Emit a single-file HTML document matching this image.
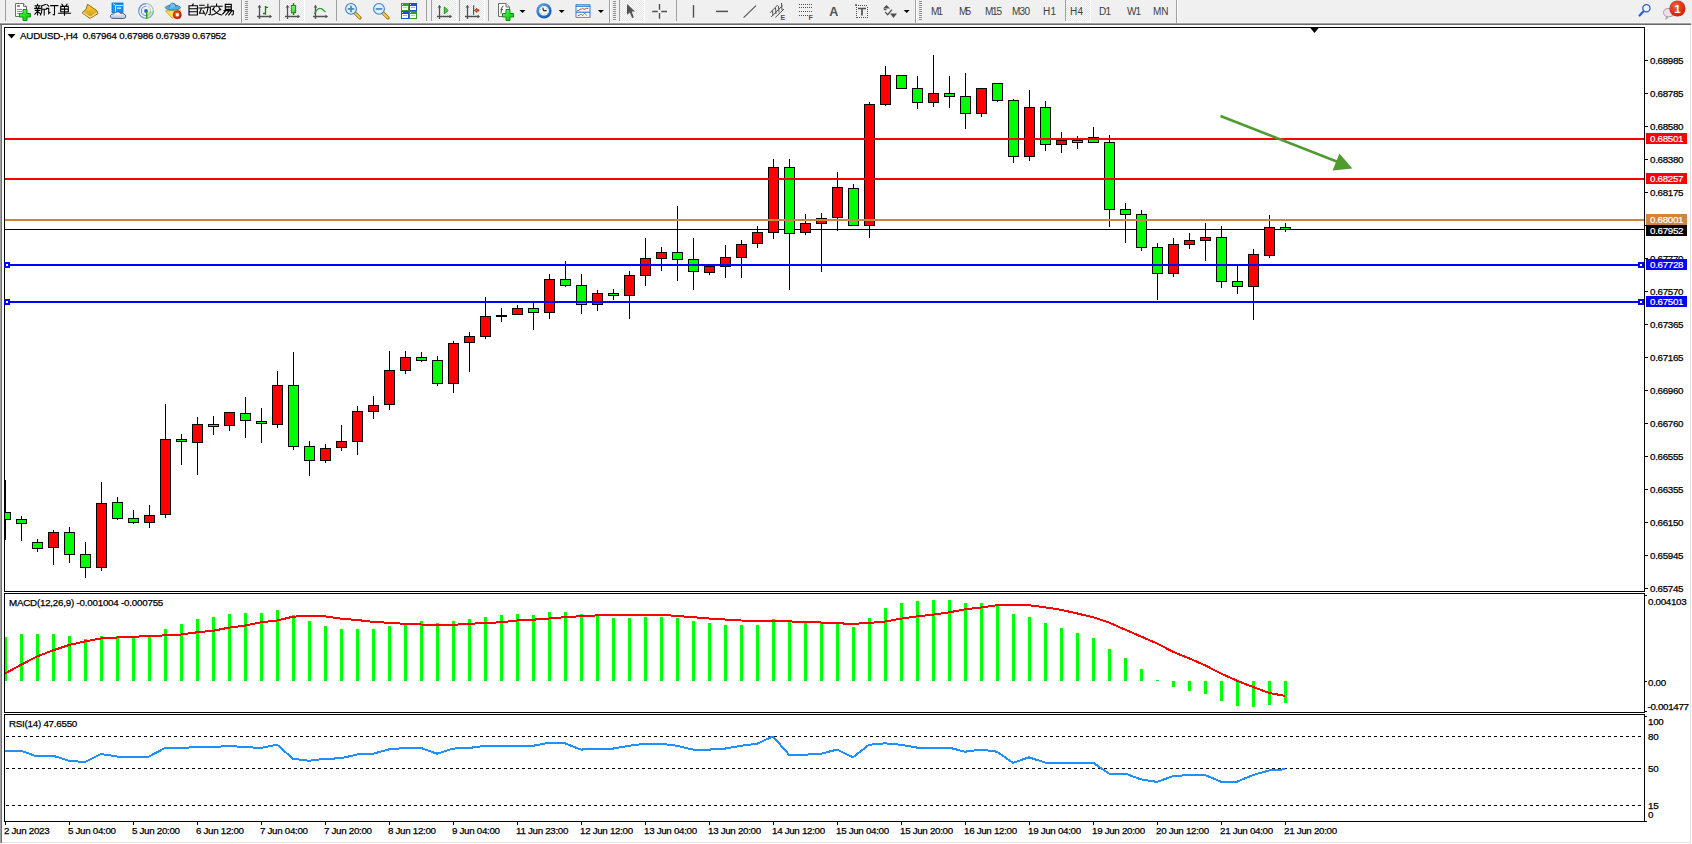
<!DOCTYPE html>
<html><head><meta charset="utf-8"><title>MT4 AUDUSD H4</title>
<style>
html,body{margin:0;padding:0;background:#fff;width:1692px;height:844px;overflow:hidden;}
svg{display:block;position:absolute;left:0;top:0;}
text{font-family:"Liberation Sans", sans-serif;}
</style></head><body>
<svg width="1692" height="844" viewBox="0 0 1692 844"><rect x="0" y="0" width="1692" height="23" fill="#f0f0f0"/>
<g shape-rendering="crispEdges">
<rect x="0" y="22" width="1691" height="1" fill="#f6f6f6"/>
<rect x="0" y="23" width="1691" height="1" fill="#a0a0a0"/>
<rect x="0" y="24" width="1691" height="1" fill="#6a6a6a"/>
<rect x="0" y="25" width="1" height="818" fill="#a0a0a0"/>
<rect x="1" y="25" width="1" height="818" fill="#707070"/>
<rect x="1690" y="25" width="1" height="818" fill="#e3e3e3"/>
<rect x="2" y="842" width="1689" height="1" fill="#e3e3e3"/>
</g><defs><pattern id="dither" width="2" height="2" patternUnits="userSpaceOnUse"><rect width="2" height="2" fill="#fcfcfc"/><rect width="1" height="1" fill="#e4e4e4"/><rect x="1" y="1" width="1" height="1" fill="#e4e4e4"/></pattern><linearGradient id="gplus" x1="0" y1="0" x2="1" y2="1"><stop offset="0" stop-color="#9cf59c"/><stop offset="0.5" stop-color="#22e022"/><stop offset="1" stop-color="#10c010"/></linearGradient><linearGradient id="ggold" x1="0" y1="0" x2="0" y2="1"><stop offset="0" stop-color="#f8d840"/><stop offset="1" stop-color="#d09010"/></linearGradient><linearGradient id="gcand" x1="0" y1="0" x2="1" y2="1"><stop offset="0" stop-color="#a8f8a8"/><stop offset="1" stop-color="#20c020"/></linearGradient><linearGradient id="gcloud" x1="0" y1="0" x2="0" y2="1"><stop offset="0" stop-color="#ffffff"/><stop offset="1" stop-color="#b8c4d8"/></linearGradient><radialGradient id="gclock" cx="0.4" cy="0.35" r="0.7"><stop offset="0" stop-color="#70c0ff"/><stop offset="1" stop-color="#0a50b0"/></radialGradient><radialGradient id="gred" cx="0.4" cy="0.35" r="0.7"><stop offset="0" stop-color="#f06040"/><stop offset="1" stop-color="#d01800"/></radialGradient></defs>
<g shape-rendering="crispEdges">
<rect x="5" y="0" width="1" height="21" fill="#a0a0a0"/>
<rect x="241" y="0" width="1" height="23" fill="#a0a0a0"/><rect x="242" y="0" width="1" height="23" fill="#ffffff"/>
<rect x="245" y="1" width="3" height="1" fill="#909090"/><rect x="245" y="3" width="3" height="1" fill="#909090"/><rect x="245" y="5" width="3" height="1" fill="#909090"/><rect x="245" y="7" width="3" height="1" fill="#909090"/><rect x="245" y="9" width="3" height="1" fill="#909090"/><rect x="245" y="11" width="3" height="1" fill="#909090"/><rect x="245" y="13" width="3" height="1" fill="#909090"/><rect x="245" y="15" width="3" height="1" fill="#909090"/><rect x="245" y="17" width="3" height="1" fill="#909090"/><rect x="245" y="19" width="3" height="1" fill="#909090"/>
<rect x="279" y="0" width="1" height="21" fill="#a0a0a0"/><rect x="280" y="0" width="24" height="21" fill="url(#dither)"/><rect x="304" y="0" width="1" height="22" fill="#ffffff"/><rect x="279" y="21" width="26" height="1" fill="#ffffff"/>
<rect x="336" y="0" width="1" height="21" fill="#a0a0a0"/>
<rect x="426" y="0" width="1" height="21" fill="#a0a0a0"/>
<rect x="431" y="0" width="1" height="21" fill="#a0a0a0"/><rect x="432" y="0" width="24" height="21" fill="url(#dither)"/><rect x="456" y="0" width="1" height="22" fill="#ffffff"/><rect x="431" y="21" width="26" height="1" fill="#ffffff"/>
<rect x="459" y="0" width="1" height="21" fill="#a0a0a0"/><rect x="460" y="0" width="24" height="21" fill="url(#dither)"/><rect x="484" y="0" width="1" height="22" fill="#ffffff"/><rect x="459" y="21" width="26" height="1" fill="#ffffff"/>
<rect x="488" y="0" width="1" height="21" fill="#a0a0a0"/>
<rect x="609" y="0" width="1" height="23" fill="#a0a0a0"/><rect x="610" y="0" width="1" height="23" fill="#ffffff"/>
<rect x="613" y="1" width="3" height="1" fill="#909090"/><rect x="613" y="3" width="3" height="1" fill="#909090"/><rect x="613" y="5" width="3" height="1" fill="#909090"/><rect x="613" y="7" width="3" height="1" fill="#909090"/><rect x="613" y="9" width="3" height="1" fill="#909090"/><rect x="613" y="11" width="3" height="1" fill="#909090"/><rect x="613" y="13" width="3" height="1" fill="#909090"/><rect x="613" y="15" width="3" height="1" fill="#909090"/><rect x="613" y="17" width="3" height="1" fill="#909090"/><rect x="613" y="19" width="3" height="1" fill="#909090"/>
<rect x="619" y="0" width="1" height="21" fill="#a0a0a0"/><rect x="620" y="0" width="24" height="21" fill="url(#dither)"/><rect x="644" y="0" width="1" height="22" fill="#ffffff"/><rect x="619" y="21" width="26" height="1" fill="#ffffff"/>
<rect x="676" y="0" width="1" height="21" fill="#a0a0a0"/>
<rect x="915" y="0" width="1" height="23" fill="#a0a0a0"/><rect x="916" y="0" width="1" height="23" fill="#ffffff"/>
<rect x="919" y="1" width="3" height="1" fill="#909090"/><rect x="919" y="3" width="3" height="1" fill="#909090"/><rect x="919" y="5" width="3" height="1" fill="#909090"/><rect x="919" y="7" width="3" height="1" fill="#909090"/><rect x="919" y="9" width="3" height="1" fill="#909090"/><rect x="919" y="11" width="3" height="1" fill="#909090"/><rect x="919" y="13" width="3" height="1" fill="#909090"/><rect x="919" y="15" width="3" height="1" fill="#909090"/><rect x="919" y="17" width="3" height="1" fill="#909090"/><rect x="919" y="19" width="3" height="1" fill="#909090"/>
<rect x="1065" y="0" width="1" height="21" fill="#a0a0a0"/><rect x="1066" y="0" width="24" height="21" fill="url(#dither)"/><rect x="1090" y="0" width="1" height="22" fill="#ffffff"/><rect x="1065" y="21" width="26" height="1" fill="#ffffff"/>
<rect x="1176" y="0" width="1" height="23" fill="#a0a0a0"/><rect x="1177" y="0" width="1" height="23" fill="#ffffff"/>
</g>
<path d="M15.5 3.5H23.5L26.5 6.5V16.5H15.5Z" fill="#fff" stroke="#707070" stroke-width="1"/>
<path d="M23.5 3.5V6.5H26.5" fill="#e8e8e8" stroke="#707070" stroke-width="1"/>
<g fill="#909090" shape-rendering="crispEdges"><rect x="17" y="5" width="3" height="2"/><rect x="17" y="9" width="5" height="1"/><rect x="17" y="11" width="5" height="1"/><rect x="17" y="13" width="3" height="1"/></g>
<path d="M23 9.5H27V13.5H30.5V17H27V20.5H23V17H19.5V13.5H23Z" fill="url(#gplus)" stroke="#109010" stroke-width="1"/>
<path transform="translate(34.5,4)" d="M3 0.3V1.6 M0.6 1.8H5.6 M1.6 2.6L2.2 3.8 M4.6 2.6L4 3.8 M0.2 4.4H6 M0.8 6.4H5.4 M3.1 4.4V11 M3 7.4L0.4 10.2 M3.4 7.6L5.6 9.4 M11.4 0.4L7.2 1.8 M7.2 1.8V7 Q7 9.5 6 11 M7.2 5.2H12 M9.7 5.2V11" stroke="#000" stroke-width="1.1" fill="none" stroke-linecap="square"/>
<path transform="translate(46.5,4)" d="M0.8 0.8L2.2 2.2 M0.2 4.4H2.2V9.6L3.6 8.4 M4.2 1.6H11.4 M8 1.6V10.6Q8 11.2 6.6 10.6" stroke="#000" stroke-width="1.1" fill="none" stroke-linecap="square"/>
<path transform="translate(58.5,4)" d="M3.4 0.2L4.4 1.6 M8.6 0.2L7.6 1.6 M2.2 2.4H9.8V7.8H2.2Z M2.2 5.1H9.8 M6 2.4V11.2 M0 9.2H12" stroke="#000" stroke-width="1.1" fill="none" stroke-linecap="square"/>
<path d="M87.5 4.3L96.8 10.6L98 13.6L90 18.4L82.2 12.9L86.2 9Z" fill="url(#ggold)" stroke="#a06410" stroke-width="1"/>
<path d="M83.2 12.6L90.2 17.2L97.2 12.8" fill="none" stroke="#fff0b0" stroke-width="1.2" opacity="0.8"/>
<rect x="112" y="3" width="11" height="9.5" fill="#1890f0" stroke="#0a70d0" stroke-width="0.8"/>
<path d="M113 3.5L115.5 5.5V12 M115.5 5.5H123" stroke="#d8f0ff" stroke-width="0.9" fill="none"/>
<rect x="117" y="7.5" width="4" height="1.3" fill="#e8f6ff"/>
<path d="M111.5 18.3Q109.8 17.6 110.6 15.4Q111.3 13.6 113.6 14Q114.5 11.6 117.2 12Q119.3 11 120.4 13.4Q122.3 12.6 124 14Q126.4 14.6 125.7 17.1Q125.2 18.5 123.6 18.5Z" fill="url(#gcloud)" stroke="#4a5a8a" stroke-width="1"/>
<g fill="none" stroke-width="1.1">
<path d="M146 3.6A7.3 7.3 0 0 0 146 18.2" stroke="#4a78d8" opacity="0.85"/>
<path d="M146 3.6A7.3 7.3 0 0 1 153.3 10.9" stroke="#88b0c0" opacity="0.7"/>
<path d="M153.3 10.9A7.3 7.3 0 0 1 146 18.2" stroke="#40a040" opacity="0.9"/>
<path d="M146 6.3A4.6 4.6 0 0 0 146 15.5" stroke="#4a78d8" opacity="0.8"/>
<path d="M146 6.3A4.6 4.6 0 0 1 150.6 10.9" stroke="#a0c0b0" opacity="0.6"/>
<path d="M150.6 10.9A4.6 4.6 0 0 1 146 15.5" stroke="#50a850" opacity="0.8"/>
</g>
<path d="M146.5 11V18.4L150 17.4A7 7 0 0 0 153 12Z" fill="#a8d8a0" opacity="0.55"/>
<circle cx="146" cy="10.9" r="1.9" fill="#2a5ad0"/>
<rect x="146" y="11" width="1.4" height="7.6" fill="#1aa01a"/>
<path d="M165.5 10.8L180.6 10.2L172.4 18.4Z" fill="#f8e050" stroke="#d0a020" stroke-width="0.9"/>
<ellipse cx="172.9" cy="7.6" rx="7.6" ry="2.4" fill="#58b0e8" stroke="#2a78a8" stroke-width="0.9"/>
<path d="M169.4 7.4Q169.6 3.2 172.8 3.2Q176 3.2 176 7.2" fill="#70c0f0" stroke="#2a78a8" stroke-width="0.9"/>
<circle cx="177.3" cy="14.8" r="4" fill="url(#gred)" stroke="#b01000" stroke-width="0.7"/>
<rect x="175.8" y="13.3" width="3" height="3" fill="#fff"/>
<path transform="translate(187.2,4)" d="M6 0L5 1.6 M1.8 1.8H10.2V11H1.8Z M1.8 4.7H10.2 M1.8 7.8H10.2" stroke="#000" stroke-width="1.1" fill="none" stroke-linecap="square"/>
<path transform="translate(198.89999999999998,4)" d="M0.8 1.2H5.2 M0 4H6 M2.6 4L0.6 9.2H5.4 M4.2 6.8L5.6 9.6 M6.4 3.2H11.4V10.2Q11.2 11 10 10.6 M9 0.2V4Q8.8 8.4 6.4 11" stroke="#000" stroke-width="1.1" fill="none" stroke-linecap="square"/>
<path transform="translate(210.6,4)" d="M6 0V1.6 M0.4 2.2H11.6 M3.6 3.6L1.8 5.8 M8.4 3.6L10.2 5.8 M3 5.8Q6 10 10.8 11 M9 5.8Q6 10 1 11" stroke="#000" stroke-width="1.1" fill="none" stroke-linecap="square"/>
<path transform="translate(222.29999999999998,4)" d="M3 0.4H9V5.4H3Z M3 2.9H9 M1.8 6.6H11V10.2Q10.8 11 9.6 10.8 M3.6 6.6L0.4 10 M6.4 7.6L3.4 11 M9 7.6L6.4 11" stroke="#000" stroke-width="1.1" fill="none" stroke-linecap="square"/>
<path d="M259.5 5.5V19 M257.0 16.5H271.0" stroke="#505050" stroke-width="1.3" fill="none"/><polygon points="257.7,7.6 259.5,5 261.3,7.6" fill="#505050"/><polygon points="269.5,14.7 272.1,16.5 269.5,18.3" fill="#505050"/>
<path d="M265.5 6V14.8 M265.5 7.3H268 M263 13.5H265.5" stroke="#108010" stroke-width="1.3" fill="none"/>
<path d="M287.5 5.5V19 M285.0 16.5H299.0" stroke="#505050" stroke-width="1.3" fill="none"/><polygon points="285.7,7.6 287.5,5 289.3,7.6" fill="#505050"/><polygon points="297.5,14.7 300.1,16.5 297.5,18.3" fill="#505050"/>
<path d="M293.5 3V15" stroke="#108010" stroke-width="1.3"/>
<rect x="291.3" y="5.4" width="4.4" height="7.4" fill="url(#gcand)" stroke="#108010" stroke-width="0.9"/>
<path d="M315.5 5.5V19 M313.0 16.5H327.0" stroke="#505050" stroke-width="1.3" fill="none"/><polygon points="313.7,7.6 315.5,5 317.3,7.6" fill="#505050"/><polygon points="325.5,14.7 328.1,16.5 325.5,18.3" fill="#505050"/>
<path d="M314.2 13.7Q317.5 8.2 320.2 8.3Q322 8.3 325.5 12.2" stroke="#2a9a2a" stroke-width="1.2" fill="none"/>
<path d="M354.5 12.5L360 17.9" stroke="#a07010" stroke-width="3.4" stroke-linecap="round"/>
<path d="M354.8 12.8L359.7 17.6" stroke="#f0d050" stroke-width="1.8" stroke-linecap="round"/>
<circle cx="351" cy="8.9" r="5.4" fill="#dcf0fb" stroke="#3a80c8" stroke-width="1.1"/>
<rect x="347.7" y="8.1" width="6.6" height="1.7" fill="#4a8ab8"/>
<rect x="350.15" y="5.6" width="1.7" height="6.6" fill="#4a8ab8"/>
<path d="M382.5 12.5L388 17.9" stroke="#a07010" stroke-width="3.4" stroke-linecap="round"/>
<path d="M382.8 12.8L387.7 17.6" stroke="#f0d050" stroke-width="1.8" stroke-linecap="round"/>
<circle cx="379" cy="8.9" r="5.4" fill="#dcf0fb" stroke="#3a80c8" stroke-width="1.1"/>
<rect x="375.7" y="8.1" width="6.6" height="1.7" fill="#4a8ab8"/>
<g shape-rendering="crispEdges">
<rect x="401" y="3" width="8" height="8" fill="#30a020"/>
<rect x="402" y="6" width="6" height="4" fill="#fff"/>
<rect x="403" y="7" width="4" height="1" fill="#a0e090"/>
<rect x="402" y="4" width="1" height="1" fill="#e0f0e0"/>
<rect x="409" y="3" width="8" height="8" fill="#2050d0"/>
<rect x="410" y="6" width="6" height="4" fill="#fff"/>
<rect x="411" y="7" width="4" height="1" fill="#90b0f0"/>
<rect x="410" y="4" width="1" height="1" fill="#e0f0e0"/>
<rect x="401" y="11" width="8" height="8" fill="#2050d0"/>
<rect x="402" y="14" width="6" height="4" fill="#fff"/>
<rect x="403" y="15" width="4" height="1" fill="#90b0f0"/>
<rect x="402" y="12" width="1" height="1" fill="#e0f0e0"/>
<rect x="409" y="11" width="8" height="8" fill="#30a020"/>
<rect x="410" y="14" width="6" height="4" fill="#fff"/>
<rect x="411" y="15" width="4" height="1" fill="#a0e090"/>
<rect x="410" y="12" width="1" height="1" fill="#e0f0e0"/>
</g>
<path d="M439.5 5.5V19 M437.0 16.5H451.0" stroke="#505050" stroke-width="1.3" fill="none"/><polygon points="437.7,7.6 439.5,5 441.3,7.6" fill="#505050"/><polygon points="449.5,14.7 452.1,16.5 449.5,18.3" fill="#505050"/>
<polygon points="444.3,7 448.2,10.4 444.3,13.8" fill="#40d040" stroke="#109010" stroke-width="0.9"/>
<path d="M467.5 5.5V19 M465.0 16.5H479.0" stroke="#505050" stroke-width="1.3" fill="none"/><polygon points="465.7,7.6 467.5,5 469.3,7.6" fill="#505050"/><polygon points="477.5,14.7 480.1,16.5 477.5,18.3" fill="#505050"/>
<rect x="473" y="5.3" width="1.2" height="9.4" fill="#1a6a9a"/>
<path d="M474.4 10.4L477 8.3V9.7H479V11.1H477V12.6Z" fill="#f06010" stroke="#902000" stroke-width="0.6"/>
<path d="M498.5 3.5H506L509.5 7V16.5H498.5Z" fill="#fff" stroke="#707070" stroke-width="1"/>
<path d="M506 3.5V7H509.5" fill="#e8e8e8" stroke="#707070" stroke-width="1"/>
<path d="M503.5 6.3Q502 6 501.6 8.5L501 13.5 M500.4 9.3H503" stroke="#404030" stroke-width="0.9" fill="none"/>
<path d="M506 9.5H510V13.5H513.5V17H510V20.5H506V17H502.5V13.5H506Z" fill="url(#gplus)" stroke="#109010" stroke-width="1"/>
<polygon points="519.5,10 525.5,10 522.5,13" fill="#000"/>
<circle cx="544" cy="10.9" r="7.6" fill="url(#gclock)"/>
<circle cx="544" cy="10.9" r="4.9" fill="#f4f4f4"/>
<path d="M543.5 10.6L542.8 7.6 M543.5 10.6H546.6" stroke="#202020" stroke-width="1.1" fill="none"/>
<g fill="#909090"><rect x="546.5" y="8" width="0.8" height="0.8"/><rect x="540" y="9" width="0.8" height="0.8"/><rect x="540.6" y="13" width="0.8" height="0.8"/><rect x="546.8" y="13.3" width="0.8" height="0.8"/><rect x="543.6" y="14.6" width="1.2" height="0.7" fill="#6aa8e8"/></g>
<polygon points="558.7,10 564.7,10 561.7,13" fill="#000"/>
<rect x="575.5" y="4.3" width="15" height="13.4" rx="0.8" fill="#2a78c8"/>
<rect x="576.5" y="4.8" width="13" height="1.6" fill="#80b8f0"/>
<rect x="576.5" y="7" width="13" height="4.6" fill="#fff"/>
<rect x="576.5" y="12.8" width="13" height="4.1" fill="#fff"/>
<path d="M577.2 10.4H578.8L580.2 9.2H581.5L582.5 8.3L583.8 9.2H585L586.4 8.3H588.3" stroke="#a02010" stroke-width="0.9" fill="none"/>
<path d="M578 15.5H579L580.3 14.4H581.3L582.3 15.5L583.3 14.6L584.7 13.2L585.9 14.6L586.8 15.6" stroke="#109010" stroke-width="0.9" fill="none"/>
<polygon points="597.9,10 603.9,10 600.9,13" fill="#000"/>
<polygon points="627,3.9 627,14.8 629.9,12.4 632.1,17.9 633.8,17.2 631.6,11.6 635,11.4" fill="#505050"/>
<path d="M659.5 4.1V9.7 M659.5 13.1V18.7 M652.2 11.5H657.8 M661.2 11.5H667" stroke="#505050" stroke-width="1.4"/>
<path d="M693.5 5.1V17.7" stroke="#505050" stroke-width="1.4"/>
<path d="M716 11.4H728" stroke="#505050" stroke-width="1.5"/>
<path d="M743.6 17.7L756 5.7" stroke="#505050" stroke-width="1.1"/>
<g stroke="#505050" stroke-width="1" fill="none">
<path d="M770 12.8L777.7 5 M771.2 17L782.5 5.5 M775.3 17.5L784 9"/>
<path d="M772.5 10.5L773 15.5 M775.5 8L776 14 M778.5 6L779 12.5 M781.5 3L782 10"/>
</g>
<text x="780.6" y="19.8" font-family='"Liberation Sans", sans-serif' font-size="7" font-weight="bold" fill="#505050">E</text>
<g fill="#505050" shape-rendering="crispEdges">
<rect x="799" y="4" width="1" height="1"/>
<rect x="801" y="4" width="1" height="1"/>
<rect x="803" y="4" width="1" height="1"/>
<rect x="805" y="4" width="1" height="1"/>
<rect x="807" y="4" width="1" height="1"/>
<rect x="809" y="4" width="1" height="1"/>
<rect x="811" y="4" width="1" height="1"/>
<rect x="799" y="7" width="1" height="1"/>
<rect x="801" y="7" width="1" height="1"/>
<rect x="803" y="7" width="1" height="1"/>
<rect x="805" y="7" width="1" height="1"/>
<rect x="807" y="7" width="1" height="1"/>
<rect x="809" y="7" width="1" height="1"/>
<rect x="811" y="7" width="1" height="1"/>
<rect x="799" y="11" width="1" height="1"/>
<rect x="801" y="11" width="1" height="1"/>
<rect x="803" y="11" width="1" height="1"/>
<rect x="805" y="11" width="1" height="1"/>
<rect x="807" y="11" width="1" height="1"/>
<rect x="809" y="11" width="1" height="1"/>
<rect x="811" y="11" width="1" height="1"/>
<rect x="799" y="15" width="1" height="1"/>
<rect x="801" y="15" width="1" height="1"/>
<rect x="803" y="15" width="1" height="1"/>
<rect x="805" y="15" width="1" height="1"/>
<rect x="807" y="15" width="1" height="1"/>
</g>
<text x="808.6" y="19.8" font-family='"Liberation Sans", sans-serif' font-size="7" font-weight="bold" fill="#505050">F</text>
<text x="829.3" y="16" font-family='"Liberation Sans", sans-serif' font-size="12.5" font-weight="bold" fill="#505050">A</text>
<rect x="856" y="5.5" width="11" height="12" fill="none" stroke="#505050" stroke-width="1" stroke-dasharray="1,1" shape-rendering="crispEdges"/>
<rect x="855" y="4.3" width="2" height="1.4" fill="#505050"/>
<path d="M858 8.5H866 M862 8.5V15.6" stroke="#505050" stroke-width="1.7" fill="none"/>
<polygon points="886.5,5 883,8.6 890,8.6" fill="#505050"/>
<path d="M883.8 9.6L886.5 9.6 M885.2 12.1L887.7 14.7L891.9 9.6" stroke="#505050" stroke-width="1.3" fill="none"/>
<polygon points="890,13.4 897,13.4 893.5,17.9" fill="#505050"/>
<polygon points="903.7,10 909.7,10 906.7,13" fill="#000"/>
<g font-family='"Liberation Sans", sans-serif' font-size="10" fill="#404040">
<text x="931" y="15.2" textLength="12" lengthAdjust="spacing">M1</text>
<text x="959" y="15.2" textLength="12" lengthAdjust="spacing">M5</text>
<text x="985" y="15.2" textLength="17" lengthAdjust="spacing">M15</text>
<text x="1012" y="15.2" textLength="18" lengthAdjust="spacing">M30</text>
<text x="1043" y="15.2" textLength="13" lengthAdjust="spacing">H1</text>
<text x="1070" y="15.2" textLength="13" lengthAdjust="spacing">H4</text>
<text x="1099" y="15.2" textLength="12" lengthAdjust="spacing">D1</text>
<text x="1127" y="15.2" textLength="14" lengthAdjust="spacing">W1</text>
<text x="1153" y="15.2" textLength="15.5" lengthAdjust="spacing">MN</text>
</g>
<circle cx="1646.4" cy="8.3" r="3.6" fill="#f4f4ff" stroke="#2a5fd0" stroke-width="1.3"/>
<path d="M1643.5 11.3L1639.6 15.5" stroke="#2a5fd0" stroke-width="2.2" stroke-linecap="round"/>
<path d="M1668 8.5Q1663.6 8.5 1663.6 12.6Q1663.6 16.6 1668 16.6H1666.5L1665.8 19.4L1669 16.6H1670Q1674 16.6 1674 12.6Q1674 8.5 1670 8.5Z" fill="#e4e4ec" stroke="#9a9a9a" stroke-width="0.9"/>
<circle cx="1677.4" cy="8.5" r="8.1" fill="url(#gred)"/>
<text x="1677.4" y="12.8" text-anchor="middle" font-family="'Liberation Serif', serif" font-size="11.5" font-weight="bold" fill="#fff">1</text><defs><clipPath id="cm"><rect x="5" y="28" width="1639" height="563"/></clipPath><clipPath id="cmacd"><rect x="5" y="594" width="1639" height="118"/></clipPath><clipPath id="crsi"><rect x="5" y="715" width="1639" height="106"/></clipPath></defs>
<g fill="none" stroke="#000" stroke-width="1" shape-rendering="crispEdges">
<rect x="4.5" y="27.5" width="1640" height="564"/>
<rect x="4.5" y="593.5" width="1640" height="119"/>
<rect x="4.5" y="714.5" width="1640" height="107"/>
</g>
<g clip-path="url(#cm)">
<rect x="5" y="229" width="1639" height="1" fill="#000000" shape-rendering="crispEdges"/>
<g shape-rendering="crispEdges">
<rect x="5" y="480" width="1" height="60" fill="#000"/>
<rect x="0" y="512" width="11" height="8" fill="#000"/>
<rect x="1" y="513" width="9" height="6" fill="#00ff00"/>
<rect x="21" y="516" width="1" height="25" fill="#000"/>
<rect x="16" y="519" width="11" height="5" fill="#000"/>
<rect x="17" y="520" width="9" height="3" fill="#00ff00"/>
<rect x="37" y="539" width="1" height="13" fill="#000"/>
<rect x="32" y="542" width="11" height="7" fill="#000"/>
<rect x="33" y="543" width="9" height="5" fill="#00ff00"/>
<rect x="53" y="530" width="1" height="35" fill="#000"/>
<rect x="48" y="532" width="11" height="16" fill="#000"/>
<rect x="49" y="533" width="9" height="14" fill="#ff0000"/>
<rect x="69" y="527" width="1" height="36" fill="#000"/>
<rect x="64" y="532" width="11" height="23" fill="#000"/>
<rect x="65" y="533" width="9" height="21" fill="#00ff00"/>
<rect x="85" y="542" width="1" height="36" fill="#000"/>
<rect x="80" y="554" width="11" height="14" fill="#000"/>
<rect x="81" y="555" width="9" height="12" fill="#00ff00"/>
<rect x="101" y="482" width="1" height="89" fill="#000"/>
<rect x="96" y="503" width="11" height="65" fill="#000"/>
<rect x="97" y="504" width="9" height="63" fill="#ff0000"/>
<rect x="117" y="497" width="1" height="23" fill="#000"/>
<rect x="112" y="502" width="11" height="17" fill="#000"/>
<rect x="113" y="503" width="9" height="15" fill="#00ff00"/>
<rect x="133" y="510" width="1" height="14" fill="#000"/>
<rect x="128" y="518" width="11" height="5" fill="#000"/>
<rect x="129" y="519" width="9" height="3" fill="#00ff00"/>
<rect x="149" y="505" width="1" height="23" fill="#000"/>
<rect x="144" y="515" width="11" height="8" fill="#000"/>
<rect x="145" y="516" width="9" height="6" fill="#ff0000"/>
<rect x="165" y="404" width="1" height="114" fill="#000"/>
<rect x="160" y="439" width="11" height="76" fill="#000"/>
<rect x="161" y="440" width="9" height="74" fill="#ff0000"/>
<rect x="181" y="434" width="1" height="31" fill="#000"/>
<rect x="176" y="439" width="11" height="3" fill="#000"/>
<rect x="177" y="440" width="9" height="1" fill="#00ff00"/>
<rect x="197" y="417" width="1" height="58" fill="#000"/>
<rect x="192" y="424" width="11" height="19" fill="#000"/>
<rect x="193" y="425" width="9" height="17" fill="#ff0000"/>
<rect x="213" y="416" width="1" height="19" fill="#000"/>
<rect x="208" y="424" width="11" height="3" fill="#000"/>
<rect x="209" y="425" width="9" height="1" fill="#00ff00"/>
<rect x="229" y="412" width="1" height="19" fill="#000"/>
<rect x="224" y="412" width="11" height="14" fill="#000"/>
<rect x="225" y="413" width="9" height="12" fill="#ff0000"/>
<rect x="245" y="397" width="1" height="41" fill="#000"/>
<rect x="240" y="413" width="11" height="8" fill="#000"/>
<rect x="241" y="414" width="9" height="6" fill="#00ff00"/>
<rect x="261" y="408" width="1" height="35" fill="#000"/>
<rect x="256" y="421" width="11" height="3" fill="#000"/>
<rect x="257" y="422" width="9" height="1" fill="#00ff00"/>
<rect x="277" y="371" width="1" height="57" fill="#000"/>
<rect x="272" y="385" width="11" height="40" fill="#000"/>
<rect x="273" y="386" width="9" height="38" fill="#ff0000"/>
<rect x="293" y="352" width="1" height="98" fill="#000"/>
<rect x="288" y="385" width="11" height="62" fill="#000"/>
<rect x="289" y="386" width="9" height="60" fill="#00ff00"/>
<rect x="309" y="441" width="1" height="35" fill="#000"/>
<rect x="304" y="446" width="11" height="15" fill="#000"/>
<rect x="305" y="447" width="9" height="13" fill="#00ff00"/>
<rect x="325" y="444" width="1" height="19" fill="#000"/>
<rect x="320" y="448" width="11" height="13" fill="#000"/>
<rect x="321" y="449" width="9" height="11" fill="#ff0000"/>
<rect x="341" y="425" width="1" height="26" fill="#000"/>
<rect x="336" y="441" width="11" height="7" fill="#000"/>
<rect x="337" y="442" width="9" height="5" fill="#ff0000"/>
<rect x="357" y="406" width="1" height="49" fill="#000"/>
<rect x="352" y="411" width="11" height="31" fill="#000"/>
<rect x="353" y="412" width="9" height="29" fill="#ff0000"/>
<rect x="373" y="396" width="1" height="23" fill="#000"/>
<rect x="368" y="405" width="11" height="7" fill="#000"/>
<rect x="369" y="406" width="9" height="5" fill="#ff0000"/>
<rect x="389" y="351" width="1" height="59" fill="#000"/>
<rect x="384" y="370" width="11" height="35" fill="#000"/>
<rect x="385" y="371" width="9" height="33" fill="#ff0000"/>
<rect x="405" y="351" width="1" height="23" fill="#000"/>
<rect x="400" y="357" width="11" height="14" fill="#000"/>
<rect x="401" y="358" width="9" height="12" fill="#ff0000"/>
<rect x="421" y="352" width="1" height="10" fill="#000"/>
<rect x="416" y="357" width="11" height="4" fill="#000"/>
<rect x="417" y="358" width="9" height="2" fill="#00ff00"/>
<rect x="437" y="356" width="1" height="30" fill="#000"/>
<rect x="432" y="360" width="11" height="24" fill="#000"/>
<rect x="433" y="361" width="9" height="22" fill="#00ff00"/>
<rect x="453" y="341" width="1" height="52" fill="#000"/>
<rect x="448" y="343" width="11" height="41" fill="#000"/>
<rect x="449" y="344" width="9" height="39" fill="#ff0000"/>
<rect x="469" y="332" width="1" height="40" fill="#000"/>
<rect x="464" y="336" width="11" height="7" fill="#000"/>
<rect x="465" y="337" width="9" height="5" fill="#ff0000"/>
<rect x="485" y="297" width="1" height="42" fill="#000"/>
<rect x="480" y="316" width="11" height="21" fill="#000"/>
<rect x="481" y="317" width="9" height="19" fill="#ff0000"/>
<rect x="501" y="308" width="1" height="14" fill="#000"/>
<rect x="496" y="315" width="11" height="2" fill="#000"/>
<rect x="517" y="305" width="1" height="10" fill="#000"/>
<rect x="512" y="308" width="11" height="7" fill="#000"/>
<rect x="513" y="309" width="9" height="5" fill="#ff0000"/>
<rect x="533" y="303" width="1" height="27" fill="#000"/>
<rect x="528" y="308" width="11" height="5" fill="#000"/>
<rect x="529" y="309" width="9" height="3" fill="#00ff00"/>
<rect x="549" y="274" width="1" height="45" fill="#000"/>
<rect x="544" y="279" width="11" height="34" fill="#000"/>
<rect x="545" y="280" width="9" height="32" fill="#ff0000"/>
<rect x="565" y="261" width="1" height="26" fill="#000"/>
<rect x="560" y="279" width="11" height="7" fill="#000"/>
<rect x="561" y="280" width="9" height="5" fill="#00ff00"/>
<rect x="581" y="274" width="1" height="40" fill="#000"/>
<rect x="576" y="285" width="11" height="20" fill="#000"/>
<rect x="577" y="286" width="9" height="18" fill="#00ff00"/>
<rect x="597" y="290" width="1" height="21" fill="#000"/>
<rect x="592" y="293" width="11" height="12" fill="#000"/>
<rect x="593" y="294" width="9" height="10" fill="#ff0000"/>
<rect x="613" y="289" width="1" height="11" fill="#000"/>
<rect x="608" y="293" width="11" height="3" fill="#000"/>
<rect x="609" y="294" width="9" height="1" fill="#00ff00"/>
<rect x="629" y="271" width="1" height="48" fill="#000"/>
<rect x="624" y="275" width="11" height="21" fill="#000"/>
<rect x="625" y="276" width="9" height="19" fill="#ff0000"/>
<rect x="645" y="238" width="1" height="48" fill="#000"/>
<rect x="640" y="258" width="11" height="18" fill="#000"/>
<rect x="641" y="259" width="9" height="16" fill="#ff0000"/>
<rect x="661" y="247" width="1" height="24" fill="#000"/>
<rect x="656" y="252" width="11" height="7" fill="#000"/>
<rect x="657" y="253" width="9" height="5" fill="#ff0000"/>
<rect x="677" y="206" width="1" height="75" fill="#000"/>
<rect x="672" y="252" width="11" height="8" fill="#000"/>
<rect x="673" y="253" width="9" height="6" fill="#00ff00"/>
<rect x="693" y="238" width="1" height="52" fill="#000"/>
<rect x="688" y="259" width="11" height="13" fill="#000"/>
<rect x="689" y="260" width="9" height="11" fill="#00ff00"/>
<rect x="709" y="266" width="1" height="9" fill="#000"/>
<rect x="704" y="266" width="11" height="7" fill="#000"/>
<rect x="705" y="267" width="9" height="5" fill="#ff0000"/>
<rect x="725" y="245" width="1" height="33" fill="#000"/>
<rect x="720" y="257" width="11" height="10" fill="#000"/>
<rect x="721" y="258" width="9" height="8" fill="#ff0000"/>
<rect x="741" y="240" width="1" height="38" fill="#000"/>
<rect x="736" y="244" width="11" height="14" fill="#000"/>
<rect x="737" y="245" width="9" height="12" fill="#ff0000"/>
<rect x="757" y="226" width="1" height="22" fill="#000"/>
<rect x="752" y="232" width="11" height="12" fill="#000"/>
<rect x="753" y="233" width="9" height="10" fill="#ff0000"/>
<rect x="773" y="159" width="1" height="80" fill="#000"/>
<rect x="768" y="167" width="11" height="66" fill="#000"/>
<rect x="769" y="168" width="9" height="64" fill="#ff0000"/>
<rect x="789" y="159" width="1" height="131" fill="#000"/>
<rect x="784" y="167" width="11" height="67" fill="#000"/>
<rect x="785" y="168" width="9" height="65" fill="#00ff00"/>
<rect x="805" y="214" width="1" height="21" fill="#000"/>
<rect x="800" y="223" width="11" height="10" fill="#000"/>
<rect x="801" y="224" width="9" height="8" fill="#ff0000"/>
<rect x="821" y="213" width="1" height="59" fill="#000"/>
<rect x="816" y="218" width="11" height="6" fill="#000"/>
<rect x="817" y="219" width="9" height="4" fill="#ff0000"/>
<rect x="837" y="172" width="1" height="59" fill="#000"/>
<rect x="832" y="187" width="11" height="31" fill="#000"/>
<rect x="833" y="188" width="9" height="29" fill="#ff0000"/>
<rect x="853" y="184" width="1" height="42" fill="#000"/>
<rect x="848" y="188" width="11" height="38" fill="#000"/>
<rect x="849" y="189" width="9" height="36" fill="#00ff00"/>
<rect x="869" y="102" width="1" height="136" fill="#000"/>
<rect x="864" y="104" width="11" height="122" fill="#000"/>
<rect x="865" y="105" width="9" height="120" fill="#ff0000"/>
<rect x="885" y="66" width="1" height="40" fill="#000"/>
<rect x="880" y="75" width="11" height="30" fill="#000"/>
<rect x="881" y="76" width="9" height="28" fill="#ff0000"/>
<rect x="901" y="75" width="1" height="14" fill="#000"/>
<rect x="896" y="75" width="11" height="14" fill="#000"/>
<rect x="897" y="76" width="9" height="12" fill="#00ff00"/>
<rect x="917" y="76" width="1" height="33" fill="#000"/>
<rect x="912" y="88" width="11" height="15" fill="#000"/>
<rect x="913" y="89" width="9" height="13" fill="#00ff00"/>
<rect x="933" y="55" width="1" height="52" fill="#000"/>
<rect x="928" y="93" width="11" height="10" fill="#000"/>
<rect x="929" y="94" width="9" height="8" fill="#ff0000"/>
<rect x="949" y="76" width="1" height="32" fill="#000"/>
<rect x="944" y="93" width="11" height="4" fill="#000"/>
<rect x="945" y="94" width="9" height="2" fill="#00ff00"/>
<rect x="965" y="73" width="1" height="56" fill="#000"/>
<rect x="960" y="96" width="11" height="18" fill="#000"/>
<rect x="961" y="97" width="9" height="16" fill="#00ff00"/>
<rect x="981" y="88" width="1" height="29" fill="#000"/>
<rect x="976" y="88" width="11" height="26" fill="#000"/>
<rect x="977" y="89" width="9" height="24" fill="#ff0000"/>
<rect x="997" y="83" width="1" height="19" fill="#000"/>
<rect x="992" y="83" width="11" height="18" fill="#000"/>
<rect x="993" y="84" width="9" height="16" fill="#00ff00"/>
<rect x="1013" y="99" width="1" height="64" fill="#000"/>
<rect x="1008" y="100" width="11" height="57" fill="#000"/>
<rect x="1009" y="101" width="9" height="55" fill="#00ff00"/>
<rect x="1029" y="90" width="1" height="71" fill="#000"/>
<rect x="1024" y="107" width="11" height="50" fill="#000"/>
<rect x="1025" y="108" width="9" height="48" fill="#ff0000"/>
<rect x="1045" y="101" width="1" height="50" fill="#000"/>
<rect x="1040" y="107" width="11" height="38" fill="#000"/>
<rect x="1041" y="108" width="9" height="36" fill="#00ff00"/>
<rect x="1061" y="132" width="1" height="21" fill="#000"/>
<rect x="1056" y="140" width="11" height="5" fill="#000"/>
<rect x="1057" y="141" width="9" height="3" fill="#ff0000"/>
<rect x="1077" y="136" width="1" height="13" fill="#000"/>
<rect x="1072" y="140" width="11" height="3" fill="#000"/>
<rect x="1073" y="141" width="9" height="1" fill="#00ff00"/>
<rect x="1093" y="127" width="1" height="16" fill="#000"/>
<rect x="1088" y="137" width="11" height="6" fill="#000"/>
<rect x="1089" y="138" width="9" height="4" fill="#00ff00"/>
<rect x="1109" y="135" width="1" height="92" fill="#000"/>
<rect x="1104" y="142" width="11" height="68" fill="#000"/>
<rect x="1105" y="143" width="9" height="66" fill="#00ff00"/>
<rect x="1125" y="203" width="1" height="40" fill="#000"/>
<rect x="1120" y="209" width="11" height="6" fill="#000"/>
<rect x="1121" y="210" width="9" height="4" fill="#00ff00"/>
<rect x="1141" y="210" width="1" height="41" fill="#000"/>
<rect x="1136" y="214" width="11" height="34" fill="#000"/>
<rect x="1137" y="215" width="9" height="32" fill="#00ff00"/>
<rect x="1157" y="243" width="1" height="57" fill="#000"/>
<rect x="1152" y="247" width="11" height="27" fill="#000"/>
<rect x="1153" y="248" width="9" height="25" fill="#00ff00"/>
<rect x="1173" y="238" width="1" height="39" fill="#000"/>
<rect x="1168" y="244" width="11" height="30" fill="#000"/>
<rect x="1169" y="245" width="9" height="28" fill="#ff0000"/>
<rect x="1189" y="233" width="1" height="16" fill="#000"/>
<rect x="1184" y="240" width="11" height="5" fill="#000"/>
<rect x="1185" y="241" width="9" height="3" fill="#ff0000"/>
<rect x="1205" y="223" width="1" height="38" fill="#000"/>
<rect x="1200" y="237" width="11" height="4" fill="#000"/>
<rect x="1201" y="238" width="9" height="2" fill="#ff0000"/>
<rect x="1221" y="226" width="1" height="62" fill="#000"/>
<rect x="1216" y="237" width="11" height="45" fill="#000"/>
<rect x="1217" y="238" width="9" height="43" fill="#00ff00"/>
<rect x="1237" y="266" width="1" height="28" fill="#000"/>
<rect x="1232" y="281" width="11" height="6" fill="#000"/>
<rect x="1233" y="282" width="9" height="4" fill="#00ff00"/>
<rect x="1253" y="249" width="1" height="71" fill="#000"/>
<rect x="1248" y="254" width="11" height="33" fill="#000"/>
<rect x="1249" y="255" width="9" height="31" fill="#ff0000"/>
<rect x="1269" y="215" width="1" height="43" fill="#000"/>
<rect x="1264" y="227" width="11" height="29" fill="#000"/>
<rect x="1265" y="228" width="9" height="27" fill="#ff0000"/>
<rect x="1285" y="223" width="1" height="9" fill="#000"/>
<rect x="1280" y="227" width="11" height="3" fill="#000"/>
<rect x="1281" y="228" width="9" height="1" fill="#00ff00"/>
</g>
<g shape-rendering="crispEdges">
<rect x="5" y="138" width="1639" height="2" fill="#ff0000"/>
<rect x="5" y="178" width="1639" height="2" fill="#ff0000"/>
<rect x="5" y="219" width="1639" height="2" fill="#cd853f"/>
<rect x="5" y="264" width="1639" height="2" fill="#0000ff"/>
<rect x="5" y="301" width="1639" height="2" fill="#0000ff"/>
</g>
</g>
<g shape-rendering="crispEdges" fill="#0000ff">
<rect x="4" y="262" width="6" height="6"/><rect x="6" y="264" width="2" height="2" fill="#fff"/>
<rect x="1638" y="262" width="6" height="6"/><rect x="1640" y="264" width="2" height="2" fill="#fff"/>
<rect x="4" y="299" width="6" height="6"/><rect x="6" y="301" width="2" height="2" fill="#fff"/>
<rect x="1638" y="299" width="6" height="6"/><rect x="1640" y="301" width="2" height="2" fill="#fff"/>
</g>
<g>
<line x1="1220.5" y1="116" x2="1338" y2="162" stroke="#4f9b2f" stroke-width="2.6"/>
<polygon points="1339.4,153.6 1332.6,170.4 1352.4,168.4" fill="#4f9b2f"/>
</g>
<polygon points="1309.5,27 1319.5,27 1314.5,33" fill="#000"/>
<g clip-path="url(#cmacd)" shape-rendering="crispEdges" fill="#00ff00">
<rect x="4" y="637" width="3" height="44"/>
<rect x="20" y="634" width="3" height="47"/>
<rect x="36" y="634" width="3" height="47"/>
<rect x="52" y="634" width="3" height="47"/>
<rect x="68" y="636" width="3" height="45"/>
<rect x="84" y="639" width="3" height="42"/>
<rect x="100" y="636" width="3" height="45"/>
<rect x="116" y="636" width="3" height="45"/>
<rect x="132" y="637" width="3" height="44"/>
<rect x="148" y="637" width="3" height="44"/>
<rect x="164" y="629" width="3" height="52"/>
<rect x="180" y="624" width="3" height="57"/>
<rect x="196" y="619" width="3" height="62"/>
<rect x="212" y="617" width="3" height="64"/>
<rect x="228" y="614" width="3" height="67"/>
<rect x="244" y="613" width="3" height="68"/>
<rect x="260" y="613" width="3" height="68"/>
<rect x="276" y="610" width="3" height="71"/>
<rect x="292" y="615" width="3" height="66"/>
<rect x="308" y="621" width="3" height="60"/>
<rect x="324" y="626" width="3" height="55"/>
<rect x="340" y="629" width="3" height="52"/>
<rect x="356" y="629" width="3" height="52"/>
<rect x="372" y="629" width="3" height="52"/>
<rect x="388" y="626" width="3" height="55"/>
<rect x="404" y="624" width="3" height="57"/>
<rect x="420" y="621" width="3" height="60"/>
<rect x="436" y="623" width="3" height="58"/>
<rect x="452" y="621" width="3" height="60"/>
<rect x="468" y="619" width="3" height="62"/>
<rect x="484" y="617" width="3" height="64"/>
<rect x="500" y="615" width="3" height="66"/>
<rect x="516" y="614" width="3" height="67"/>
<rect x="532" y="615" width="3" height="66"/>
<rect x="548" y="612" width="3" height="69"/>
<rect x="564" y="612" width="3" height="69"/>
<rect x="580" y="614" width="3" height="67"/>
<rect x="596" y="616" width="3" height="65"/>
<rect x="612" y="618" width="3" height="63"/>
<rect x="628" y="618" width="3" height="63"/>
<rect x="644" y="617" width="3" height="64"/>
<rect x="660" y="617" width="3" height="64"/>
<rect x="676" y="618" width="3" height="63"/>
<rect x="692" y="621" width="3" height="60"/>
<rect x="708" y="623" width="3" height="58"/>
<rect x="724" y="625" width="3" height="56"/>
<rect x="740" y="625" width="3" height="56"/>
<rect x="756" y="625" width="3" height="56"/>
<rect x="772" y="619" width="3" height="62"/>
<rect x="788" y="622" width="3" height="59"/>
<rect x="804" y="623" width="3" height="58"/>
<rect x="820" y="623" width="3" height="58"/>
<rect x="836" y="624" width="3" height="57"/>
<rect x="852" y="627" width="3" height="54"/>
<rect x="868" y="618" width="3" height="63"/>
<rect x="884" y="608" width="3" height="73"/>
<rect x="900" y="603" width="3" height="78"/>
<rect x="916" y="601" width="3" height="80"/>
<rect x="932" y="600" width="3" height="81"/>
<rect x="948" y="600" width="3" height="81"/>
<rect x="964" y="603" width="3" height="78"/>
<rect x="980" y="603" width="3" height="78"/>
<rect x="996" y="605" width="3" height="76"/>
<rect x="1012" y="614" width="3" height="67"/>
<rect x="1028" y="617" width="3" height="64"/>
<rect x="1044" y="623" width="3" height="58"/>
<rect x="1060" y="628" width="3" height="53"/>
<rect x="1076" y="633" width="3" height="48"/>
<rect x="1092" y="638" width="3" height="43"/>
<rect x="1108" y="649" width="3" height="32"/>
<rect x="1124" y="658" width="3" height="23"/>
<rect x="1140" y="669" width="3" height="12"/>
<rect x="1156" y="680" width="3" height="1"/>
<rect x="1172" y="681" width="3" height="6"/>
<rect x="1188" y="681" width="3" height="10"/>
<rect x="1204" y="681" width="3" height="13"/>
<rect x="1220" y="681" width="3" height="20"/>
<rect x="1236" y="681" width="3" height="25"/>
<rect x="1252" y="681" width="3" height="26"/>
<rect x="1268" y="681" width="3" height="24"/>
<rect x="1284" y="681" width="3" height="22"/>
</g>
<g clip-path="url(#cmacd)"><polyline points="5,673.5 21,664.8 37,656.5 53,650.3 69,645 85,641.4 101,638.5 117,637.5 133,636.8 149,636 165,635.4 181,634.5 197,632.3 213,630.8 229,627.6 245,625.6 261,622.3 277,620.5 293,616.7 309,615.7 325,616.4 341,618.7 357,620 373,621.8 389,622.8 405,623.8 421,624.5 437,624.8 453,624.8 469,623.8 485,623 501,622.3 517,620.5 533,619.7 549,618.5 565,617.2 581,616.2 597,615.4 613,614.9 629,615 645,615 661,614.9 677,615.9 693,617.2 709,618.5 725,619.5 741,620.5 757,620.7 773,620.7 789,621.3 805,622.3 821,622.5 837,623.3 853,623.8 869,623 885,621.5 901,618.7 917,616.4 933,614.7 949,612.4 965,609.3 981,607.5 997,605.2 1013,605 1029,605.2 1045,607.3 1061,609.8 1077,613.4 1093,617.2 1109,622.5 1125,629.6 1141,636.5 1157,643.4 1173,651.8 1189,658.3 1205,665.3 1221,673.5 1237,680.7 1253,687 1269,692.9 1285,695.9" fill="none" stroke="#ff0000" stroke-width="2" stroke-linejoin="round" shape-rendering="crispEdges"/></g>
<g shape-rendering="crispEdges" stroke="#000" stroke-width="1" stroke-dasharray="3,3">
<line x1="6" y1="736.5" x2="1644" y2="736.5"/>
<line x1="6" y1="768.5" x2="1644" y2="768.5"/>
<line x1="6" y1="805.5" x2="1644" y2="805.5"/>
</g>
<g clip-path="url(#crsi)"><polyline points="5,750.7 21,750.7 37,756.5 53,755.7 69,760.8 85,762 101,754 117,756.5 133,756.5 149,756.5 165,748 181,748 197,747 213,747 229,746 245,747 261,748 277,744.6 293,758.8 309,760.8 325,758.8 341,758.3 357,754.5 373,753.7 389,749.4 405,748 421,748 437,753.7 453,748.6 469,748 485,745.8 501,745.8 517,745.8 533,745.8 549,742.8 565,743.3 581,749.6 597,748.6 613,748.6 629,745.8 645,743.8 661,743.8 677,745.8 693,749.6 709,749.6 725,748.6 741,745.8 757,743.8 773,736.4 789,754.7 805,754.7 821,753.7 837,749.6 853,757.3 869,744.8 885,743.3 901,744.8 917,747.6 933,747.6 949,747.6 965,751.7 981,749.6 997,751.7 1013,762.9 1029,757.3 1045,762.6 1061,762.6 1077,762.6 1093,762.6 1109,773.5 1125,773.5 1141,779.4 1157,781.9 1173,776.1 1189,775 1205,775 1221,781.7 1237,781.7 1253,775 1269,770.5 1285,769.3" fill="none" stroke="#1e90ff" stroke-width="2" stroke-linejoin="round" shape-rendering="crispEdges"/></g><g shape-rendering="crispEdges" fill="#000">
<rect x="1645" y="60" width="3" height="1"/>
<rect x="1645" y="93" width="3" height="1"/>
<rect x="1645" y="126" width="3" height="1"/>
<rect x="1645" y="159" width="3" height="1"/>
<rect x="1645" y="192" width="3" height="1"/>
<rect x="1645" y="225" width="3" height="1"/>
<rect x="1645" y="258" width="3" height="1"/>
<rect x="1645" y="291" width="3" height="1"/>
<rect x="1645" y="324" width="3" height="1"/>
<rect x="1645" y="357" width="3" height="1"/>
<rect x="1645" y="390" width="3" height="1"/>
<rect x="1645" y="423" width="3" height="1"/>
<rect x="1645" y="456" width="3" height="1"/>
<rect x="1645" y="489" width="3" height="1"/>
<rect x="1645" y="522" width="3" height="1"/>
<rect x="1645" y="555" width="3" height="1"/>
<rect x="1645" y="588" width="3" height="1"/>
</g>
<g font-family='"Liberation Sans", sans-serif' font-size="9.8" fill="#000" stroke="#000" stroke-width="0.25" letter-spacing="-0.32">
<text x="1650" y="64">0.68985</text>
<text x="1650" y="97">0.68785</text>
<text x="1650" y="130">0.68580</text>
<text x="1650" y="163">0.68380</text>
<text x="1650" y="196">0.68175</text>
<text x="1650" y="262">0.67770</text>
<text x="1650" y="295">0.67570</text>
<text x="1650" y="328">0.67365</text>
<text x="1650" y="361">0.67165</text>
<text x="1650" y="394">0.66960</text>
<text x="1650" y="427">0.66760</text>
<text x="1650" y="460">0.66555</text>
<text x="1650" y="493">0.66355</text>
<text x="1650" y="526">0.66150</text>
<text x="1650" y="559">0.65945</text>
<text x="1650" y="592">0.65745</text>
</g>
<rect x="1646" y="133" width="41" height="11" fill="#ff0000" shape-rendering="crispEdges"/>
<text x="1650" y="142" font-family='"Liberation Sans", sans-serif' font-size="9.8" letter-spacing="-0.32" fill="#fff" stroke="#fff" stroke-width="0.2">0.68501</text>
<rect x="1646" y="173" width="41" height="11" fill="#ff0000" shape-rendering="crispEdges"/>
<text x="1650" y="182" font-family='"Liberation Sans", sans-serif' font-size="9.8" letter-spacing="-0.32" fill="#fff" stroke="#fff" stroke-width="0.2">0.68257</text>
<rect x="1646" y="214" width="41" height="11" fill="#cd853f" shape-rendering="crispEdges"/>
<text x="1650" y="223" font-family='"Liberation Sans", sans-serif' font-size="9.8" letter-spacing="-0.32" fill="#fff" stroke="#fff" stroke-width="0.2">0.68001</text>
<rect x="1646" y="225" width="41" height="11" fill="#000000" shape-rendering="crispEdges"/>
<text x="1650" y="234" font-family='"Liberation Sans", sans-serif' font-size="9.8" letter-spacing="-0.32" fill="#fff" stroke="#fff" stroke-width="0.2">0.67952</text>
<rect x="1646" y="259" width="41" height="11" fill="#0000ff" shape-rendering="crispEdges"/>
<text x="1650" y="268" font-family='"Liberation Sans", sans-serif' font-size="9.8" letter-spacing="-0.32" fill="#fff" stroke="#fff" stroke-width="0.2">0.67728</text>
<rect x="1646" y="296" width="41" height="11" fill="#0000ff" shape-rendering="crispEdges"/>
<text x="1650" y="305" font-family='"Liberation Sans", sans-serif' font-size="9.8" letter-spacing="-0.32" fill="#fff" stroke="#fff" stroke-width="0.2">0.67501</text>
<g font-family='"Liberation Sans", sans-serif' font-size="9.8" fill="#000" stroke="#000" stroke-width="0.25" letter-spacing="-0.32">
<text x="1648" y="605">0.004103</text>
<text x="1648" y="685.5">0.00</text>
<text x="1647.5" y="709.5">-0.001477</text>
<text x="1648" y="725">100</text>
<text x="1648" y="740">80</text>
<text x="1648" y="772">50</text>
<text x="1648" y="809">15</text>
<text x="1648" y="818">0</text>
</g>
<g shape-rendering="crispEdges" fill="#000">
<rect x="1645" y="595" width="2" height="1"/>
<rect x="1645" y="681" width="2" height="1"/>
<rect x="1645" y="711" width="2" height="1"/>
<rect x="1645" y="716" width="2" height="1"/>
<rect x="1645" y="821" width="2" height="1"/>
</g>
<g shape-rendering="crispEdges" fill="#000">
<rect x="5" y="822" width="1" height="3"/>
<rect x="69" y="822" width="1" height="3"/>
<rect x="133" y="822" width="1" height="3"/>
<rect x="197" y="822" width="1" height="3"/>
<rect x="261" y="822" width="1" height="3"/>
<rect x="325" y="822" width="1" height="3"/>
<rect x="389" y="822" width="1" height="3"/>
<rect x="453" y="822" width="1" height="3"/>
<rect x="517" y="822" width="1" height="3"/>
<rect x="581" y="822" width="1" height="3"/>
<rect x="645" y="822" width="1" height="3"/>
<rect x="709" y="822" width="1" height="3"/>
<rect x="773" y="822" width="1" height="3"/>
<rect x="837" y="822" width="1" height="3"/>
<rect x="901" y="822" width="1" height="3"/>
<rect x="965" y="822" width="1" height="3"/>
<rect x="1029" y="822" width="1" height="3"/>
<rect x="1093" y="822" width="1" height="3"/>
<rect x="1157" y="822" width="1" height="3"/>
<rect x="1221" y="822" width="1" height="3"/>
<rect x="1285" y="822" width="1" height="3"/>
</g>
<g font-family='"Liberation Sans", sans-serif' font-size="9.8" fill="#000" stroke="#000" stroke-width="0.25" letter-spacing="-0.32">
<text x="4" y="834">2 Jun 2023</text>
<text x="68" y="834">5 Jun 04:00</text>
<text x="132" y="834">5 Jun 20:00</text>
<text x="196" y="834">6 Jun 12:00</text>
<text x="260" y="834">7 Jun 04:00</text>
<text x="324" y="834">7 Jun 20:00</text>
<text x="388" y="834">8 Jun 12:00</text>
<text x="452" y="834">9 Jun 04:00</text>
<text x="516" y="834">11 Jun 23:00</text>
<text x="580" y="834">12 Jun 12:00</text>
<text x="644" y="834">13 Jun 04:00</text>
<text x="708" y="834">13 Jun 20:00</text>
<text x="772" y="834">14 Jun 12:00</text>
<text x="836" y="834">15 Jun 04:00</text>
<text x="900" y="834">15 Jun 20:00</text>
<text x="964" y="834">16 Jun 12:00</text>
<text x="1028" y="834">19 Jun 04:00</text>
<text x="1092" y="834">19 Jun 20:00</text>
<text x="1156" y="834">20 Jun 12:00</text>
<text x="1220" y="834">21 Jun 04:00</text>
<text x="1284" y="834">21 Jun 20:00</text>
</g>
<polygon points="7.5,34 15.5,34 11.5,38.5" fill="#000"/>
<g font-family='"Liberation Sans", sans-serif' font-size="9.8" fill="#000" stroke="#000" stroke-width="0.25" letter-spacing="-0.32">
<text x="20" y="39" xml:space="preserve" textLength="206" lengthAdjust="spacing">AUDUSD-,H4  0.67964 0.67986 0.67939 0.67952</text>
<text x="9" y="606" textLength="154" lengthAdjust="spacing">MACD(12,26,9) -0.001004 -0.000755</text>
<text x="9" y="727" textLength="68" lengthAdjust="spacing">RSI(14) 47.6550</text>
</g></svg>
</body></html>
